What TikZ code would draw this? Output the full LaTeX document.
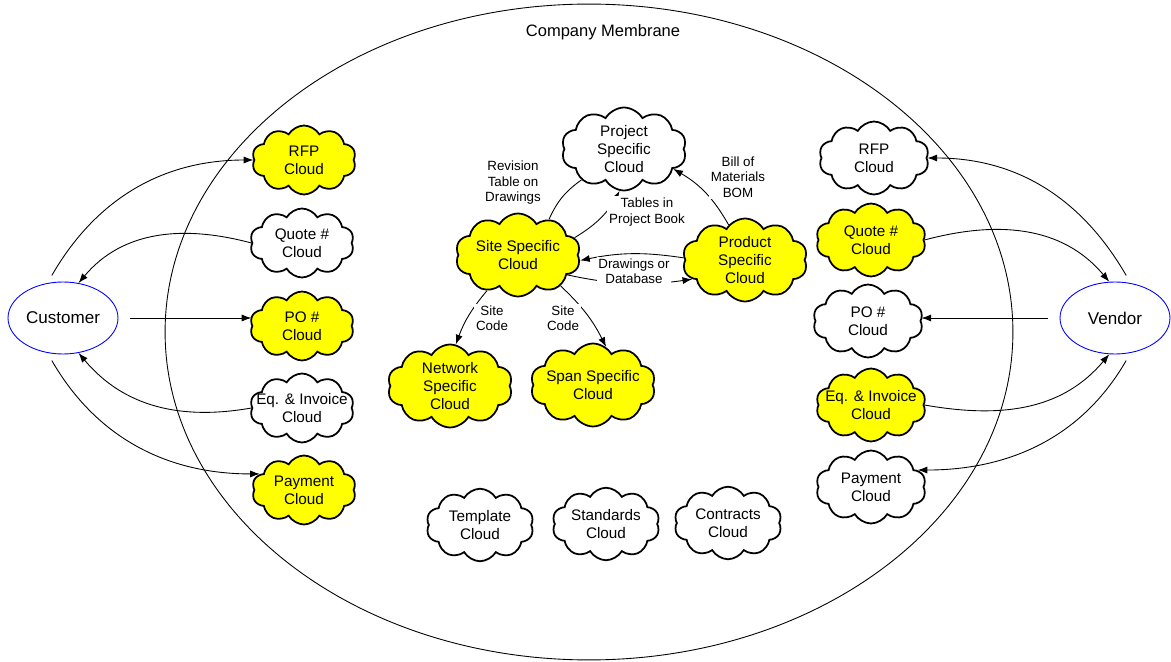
\documentclass[tikz,border=0pt]{standalone}
\usepackage{fontspec}
\setmainfont{Liberation Sans}
\usetikzlibrary{shapes.symbols, shapes.geometric, arrows.meta}
\definecolor{myYellow}{HTML}{FFFF00}
\definecolor{myBlue}{HTML}{0000FF}

\begin{document}
\begin{tikzpicture}[>={Latex[length=5.5pt,width=4pt]}, x=0.02cm, y=-0.02cm, line width=0.5pt]
  \tikzstyle{cl}=[cloud, cloud puffs=10, cloud puff arc=120, cloud ignores aspect, draw, line width=1pt, inner sep=0pt]
  \tikzstyle{Y}=[cl, fill=myYellow]
  \tikzstyle{W}=[cl, fill=white]
  \tikzstyle{sL}=[minimum width=2.08cm, minimum height=1.38cm]
  \tikzstyle{sR}=[minimum width=2.2cm, minimum height=1.46cm]
  \tikzstyle{sC}=[minimum width=2.5cm, minimum height=1.66cm]
  \tikzstyle{sB}=[minimum width=2.15cm, minimum height=1.45cm]
  \tikzstyle{T}=[align=center, font=\fontsize{8.7}{10.3}\selectfont]
  \tikzstyle{L}=[align=center, fill=white, inner sep=1pt, font=\fontsize{7.6}{8.8}\selectfont]
  \tikzstyle{E}=[ellipse, draw=myBlue, minimum width=2.2cm, minimum height=1.44cm, inner sep=0pt, font=\fontsize{9.7}{11}\selectfont]

  \useasboundingbox (0,0) rectangle (1171,662);

  \node[ellipse, draw, minimum width=16.96cm, minimum height=13.12cm] at (589,332) (membrane) {};
  \node[font=\fontsize{9.4}{11}\selectfont] at (603,32) (title) {Company Membrane};

  \node[E] at (63,318) (cust) {Customer};
  \node[E] at (1115,318) (vend) {Vendor};

  % customer side
  \node[Y, sL, label={[T]center:RFP\\Cloud}] at (304,160) (rfpL) {};
  \node[W, sL, label={[T]center:Quote \#\\Cloud}] at (302,243) (quoteL) {};
  \node[Y, sL, label={[T]center:PO \#\\Cloud}] at (302,326) (poL) {};
  \node[W, sL, label={[T]center:Eq. \& Invoice\\Cloud}] at (302,408) (eqL) {};
  \node[Y, sL, label={[T]center:Payment\\Cloud}] at (304,490) (payL) {};

  % vendor side
  \node[W, sR, label={[T]center:RFP\\Cloud}] at (874,158) (rfpR) {};
  \node[Y, sR, label={[T]center:Quote \#\\Cloud}] at (871,240) (quoteR) {};
  \node[W, sR, label={[T]center:PO \#\\Cloud}] at (868,321) (poR) {};
  \node[Y, sR, label={[T]center:Eq. \& Invoice\\Cloud}] at (871,405) (eqR) {};
  \node[W, sR, label={[T]center:Payment\\Cloud}] at (871,487) (payR) {};

  % inside
  \node[W, sC, label={[T]center:Project\\Specific\\Cloud}] at (624,149) (proj) {};
  \node[Y, sC, label={[T]center:Site Specific\\Cloud}] at (518,255) (site) {};
  \node[Y, sC, label={[T]center:Product\\Specific\\Cloud}] at (745,260) (prod) {};
  \node[Y, sC, label={[T]center:Network\\Specific\\Cloud}] at (450,386) (net) {};
  \node[Y, sC, label={[T]center:Span Specific\\Cloud}] at (593,385) (span) {};

  \node[W, sB, label={[T]center:Template\\Cloud}] at (480,525) (templ) {};
  \node[W, sB, label={[T]center:Standards\\Cloud}] at (606,524) (stand) {};
  \node[W, sB, label={[T]center:Contracts\\Cloud}] at (728,523) (contr) {};

  \draw[->, shorten <=5pt] (cust.114) to[out=60, in=180] (rfpL.west);
  \draw[->] (quoteL.west) to[out=165, in=50] (cust.66);
  \draw[->, shorten <=6.5pt] (cust.east) -- (cust.east -| poL.west);
  \draw[->] (eqL.west) to[out=190, in=-50] (cust.-66);
  \draw[->, shorten <=5pt] (cust.-114) to[out=-60, in=180] (payL.160);

  \draw[->, shorten <=5pt] (vend.66) to[out=120, in=0] (rfpR.east);
  \draw[->] (quoteR.east) to[out=15, in=130] (vend.99);
  \draw[->, shorten <=6.5pt] (vend.west) -- (vend.west -| poR.east);
  \draw[->] (eqR.east) to[out=-10, in=-130] (vend.-99);
  \draw[->, shorten <=5pt] (vend.-66) to[out=-120, in=0] (payR.20);

  \draw (site.49) to[bend left=15] (proj.216);
  \draw[->] (site.17) to[bend right=15] (proj.-96);
  \draw[->] (prod.115) to[bend right=15] (proj.-22);
  \draw[->] (prod.178) to[bend right=10] (site.-5);
  \draw[->] (site.-22) to[bend right=10] (prod.-160);
  \draw[->] (site.-131) to[bend right=10] (net.82);
  \draw[->] (site.-36) to[bend left=10] (span.71);

  \node[L] at (513,183) (revL) {Revision\\Table on\\Drawings};
  \node[L] at (647,212) (tabL) {Tables in\\Project Book};
  \node[L] at (738,177) (bomL) {Bill of\\Materials\\BOM};
  \node[L] at (634,271) (drwL) {Drawings or\\Database};
  \node[L] at (492,318) (codeN) {Site\\Code};
  \node[L] at (563,318) (codeS) {Site\\Code};

\end{tikzpicture}
\end{document}
